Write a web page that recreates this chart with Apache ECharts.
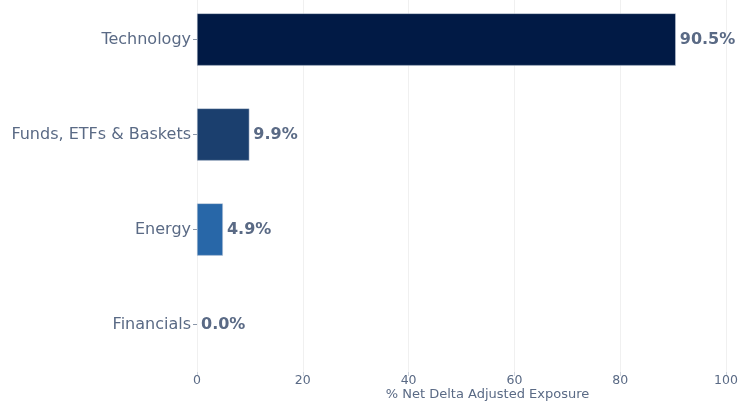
<!DOCTYPE html>
<html>
<head>
<meta charset="utf-8">
<script src="https://cdn.jsdelivr.net/npm/echarts@6/dist/echarts.min.js"></script>
<style>
html,body{margin:0;padding:0;background:#fff;}
#chart{width:740px;height:401px;}
</style>
</head>
<body>
<div id="chart"></div>
<script>
var categories = ['Technology', 'Funds, ETFs & Baskets', 'Energy', 'Financials'];
var values = [90.5, 9.9, 4.9, 0.0];
var barColors = ['#011a45', '#1b3f6e', '#2867a8', '#3a80c0'];
var xTicks = [0, 20, 40, 60, 80, 100];

var chart = echarts.init(document.getElementById('chart'), null, {renderer: 'canvas'});
var fontFam = 'DejaVu Sans';
var txt = '#5a6a85';
chart.setOption({
  animation: false,
  grid: {left: 197, right: 14, top: -8, bottom: 29, containLabel: false, outerBoundsMode: 'none'},
  xAxis: {
    type: 'value',
    min: xTicks[0], max: xTicks[xTicks.length - 1], interval: 20,
    name: '% Net Delta Adjusted Exposure',
    nameLocation: 'middle', nameGap: 16, nameMoveOverlap: false,
    nameTextStyle: {color: txt, fontSize: 13, fontFamily: fontFam, padding: [0, 0, 0, 52]},
    axisLine: {show: false},
    axisTick: {show: true, length: 4, lineStyle: {color: '#d0d5dd'}},
    axisLabel: {color: txt, fontSize: 12.5, fontFamily: fontFam, margin: 2},
    splitLine: {show: true, lineStyle: {color: '#f0f0f0', width: 1}}
  },
  yAxis: {
    type: 'category',
    data: categories,
    inverse: true,
    axisLine: {show: false},
    axisTick: {show: true, length: 4, alignWithLabel: true, lineStyle: {color: '#8a96a8'}},
    axisLabel: {color: txt, fontSize: 16, fontFamily: fontFam, margin: 6},
    splitLine: {show: false}
  },
  series: [{
    type: 'bar',
    data: values.map(function (v, i) {
      return {value: v, itemStyle: {color: barColors[i], borderWidth: v === 0 ? 0 : 0.5}};
    }),
    barCategoryGap: '45%',
    itemStyle: {borderColor: '#c8d0dc'},
    label: {
      show: true, position: 'right', distance: 4,
      formatter: function (p) { return p.value.toFixed(1) + '%'; },
      color: txt, fontSize: 16, fontWeight: 'bold', fontFamily: fontFam
    }
  }]
});
</script>
</body>
</html>
